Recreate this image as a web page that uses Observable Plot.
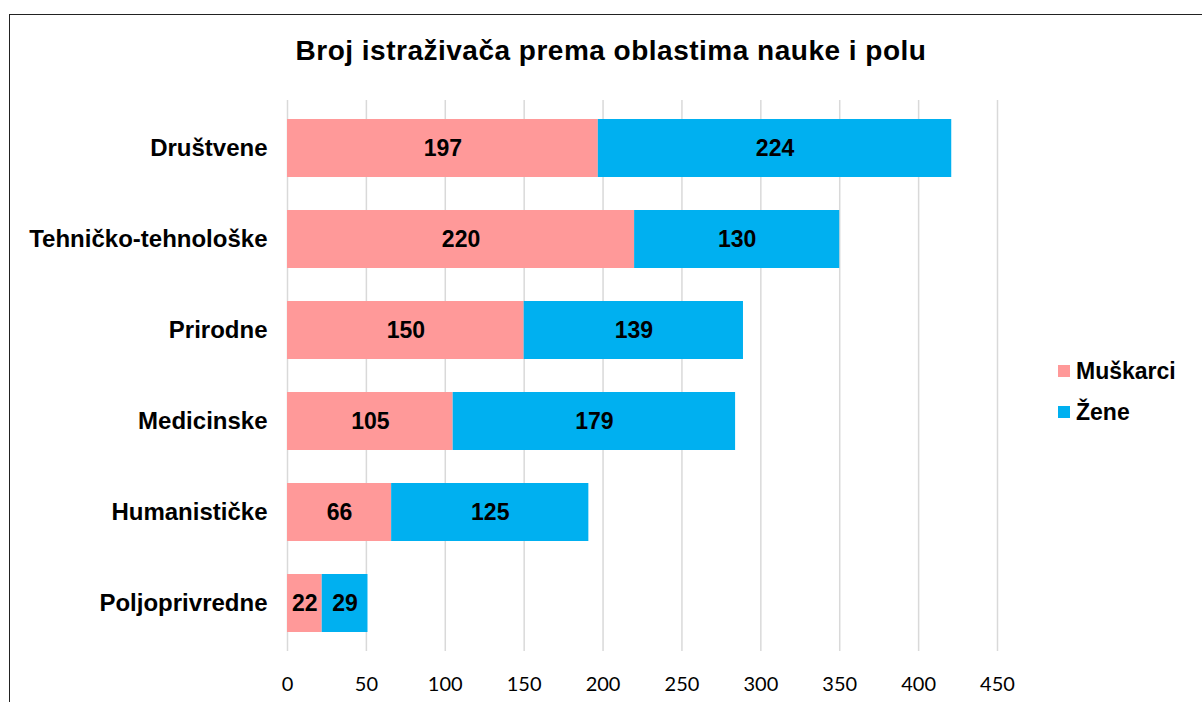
<!DOCTYPE html>
<html>
<head>
<meta charset="utf-8">
<script src="https://cdn.jsdelivr.net/npm/d3@7"></script>
<script src="https://cdn.jsdelivr.net/npm/@observablehq/plot@0.6"></script>
<style>
  html, body { margin: 0; padding: 0; background: #fff; overflow: hidden; width: 1202px; height: 702px; }
  #wrap { position: relative; width: 1202px; height: 702px; overflow: hidden; }
  #frame { position: absolute; left: 9px; top: 14px; width: 1300px; height: 800px; border: 1px solid #222; box-sizing: border-box; }
  #title { position: absolute; left: 0; width: 1222px; top: 35px; text-align: center; font: bold 28px "Liberation Sans", Arial, sans-serif; letter-spacing: 0.5px; color: #000; }
  #chart { position: absolute; left: 0; top: 0; }
  .leg { position: absolute; left: 1058px; font: bold 23px "Liberation Sans", Arial, sans-serif; color: #000; display: flex; align-items: center; height: 26px; }
  .leg span.sw { display: inline-block; width: 12px; height: 12px; margin-right: 6px; }
</style>
</head>
<body>
<div id="wrap">
  <div id="chart"></div>
  <div id="frame"></div>
  <div id="title">Broj istraživača prema oblastima nauke i polu</div>
  <div id="legend"></div>
</div>
<script>
const categories = ["Društvene", "Tehničko-tehnološke", "Prirodne", "Medicinske", "Humanističke", "Poljoprivredne"];
const muskarci = [197, 220, 150, 105, 66, 22];
const zene = [224, 130, 139, 179, 125, 29];
const seriesNames = ["Muškarci", "Žene"];
const seriesColors = ["#FF9999", "#00B0F0"];
const xTicks = [0, 50, 100, 150, 200, 250, 300, 350, 400, 450];

const rows = [];
categories.forEach((c, i) => {
  rows.push({cat: c, series: seriesNames[0], value: muskarci[i], order: 0});
  rows.push({cat: c, series: seriesNames[1], value: zene[i], order: 1});
});

const plot = Plot.plot({
  width: 1202,
  height: 702,
  marginLeft: 287,
  marginRight: 205,
  marginTop: 100,
  marginBottom: 51,
  style: {fontFamily: "'Liberation Sans', Arial, sans-serif", background: "transparent"},
  x: {domain: [0, 450], ticks: xTicks, label: null},
  y: {domain: categories, label: null, paddingInner: 0.36, paddingOuter: 0.18},
  color: {domain: seriesNames, range: seriesColors},
  marks: [
    Plot.ruleX(xTicks, {stroke: "#D9D9D9", strokeWidth: 1.5, strokeOpacity: 1}),
    Plot.barX(rows, Plot.stackX({x: "value", y: "cat", fill: "series", order: "order"})),
    Plot.text(rows, Plot.stackX({x: "value", y: "cat", text: d => String(d.value), order: "order", fill: "#000", fontWeight: "bold", fontSize: 23})),
    Plot.axisX({ticks: xTicks, tickSize: 0, tickPadding: 25, fontSize: 20, fill: "#000", fontFamily: "Lato, sans-serif", label: null}),
    Plot.axisY({tickSize: 0, tickPadding: 20, fontSize: 24, fontWeight: "bold", fill: "#000", label: null})
  ]
});
document.getElementById("chart").appendChild(plot);

const leg = document.getElementById("legend");
const legTops = [358, 399];
seriesNames.forEach((s, i) => {
  const d = document.createElement("div");
  d.className = "leg";
  d.style.top = legTops[i] + "px";
  d.innerHTML = `<span class="sw" style="background:${seriesColors[i]}"></span>${s}`;
  leg.appendChild(d);
});
</script>
</body>
</html>
